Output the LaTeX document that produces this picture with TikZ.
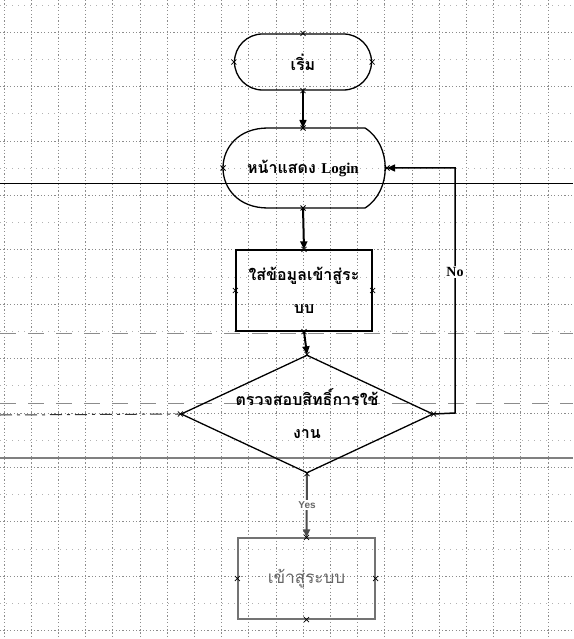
\documentclass[tikz,border=0pt]{standalone}
\usepackage{fontspec}
\setmainfont{Liberation Serif}
\newfontfamily\thai[Script=Thai]{Loma}
\newfontfamily\sansf{Liberation Sans}
\usetikzlibrary{shapes.geometric,arrows.meta}
\tikzset{
  gridline/.style={black!45,line width=0.5pt,dash pattern=on 1.2pt off 2.2pt},
  gridfaint/.style={black!30,line width=0.5pt,dash pattern=on 1pt off 5pt},
  rulebold/.style={black,line width=1.6pt},
  rulegrey/.style={black!50,line width=1.4pt},
  dashrule/.style={black!45,line width=1pt,dash pattern=on 16pt off 12pt},
  shapeline/.style={black,line width=1.3pt},
  termbox/.style={shapeline,draw,rectangle,rounded corners=28pt,minimum width=137pt,minimum height=56pt,inner sep=0pt},
  procbox/.style={shapeline,draw,rectangle,minimum width=136pt,minimum height=81pt,inner sep=0pt,align=center},
  decbox/.style={shapeline,draw,diamond,aspect=2.14,minimum width=252pt,minimum height=118pt,inner sep=0pt,align=center},
  greybox/.style={draw=black!55,line width=1.3pt,rectangle,minimum width=137pt,minimum height=81pt,inner sep=0pt},
  thaitext/.style={font=\thai\bfseries\fontsize{16}{33}\selectfont},
  flow/.style={black,line width=2pt,-{Triangle[length=8pt,width=7pt]}},
  cpmark/.style={black,line width=0.8pt},
  leftline/.style={black!80,line width=1pt,dash pattern=on 12pt off 5pt on 3pt off 5pt},
}
\newcommand\cpx[1]{\draw[cpmark] (#1) +(-2.5,-2.5) -- +(2.5,2.5) +(-2.5,2.5) -- +(2.5,-2.5);}
\begin{document}
\begin{tikzpicture}[x=1pt,y=-1pt]
\useasboundingbox (0,0) rectangle (573,639);
\fill[white] (0,0) rectangle (573,639);
% grid
\foreach \i in {0,...,20} {\draw[gridline] (3.8+27.2*\i,0) -- (3.8+27.2*\i,639);}
\foreach \j in {0,...,11} {\draw[gridline] (0,32+54.4*\j) -- (573,32+54.4*\j);}
\foreach \j in {0,...,11} {\draw[gridfaint] (0,4.8+54.4*\j) -- (573,4.8+54.4*\j);}
% rules
\draw[rulebold] (0,183.5) -- (573,183.5);
\draw[rulegrey] (0,458) -- (573,458);
\draw[dashrule] (0,333) -- (573,333);
\draw[dashrule] (0,403) -- (573,403);

% nodes
\node[termbox,thaitext] (start) at (303,62) {เริ่ม};
\node[inner sep=0pt,minimum width=164pt,minimum height=80pt] (login) at (305,168) {};
\draw[shapeline] (268,128) -- (365,128) .. controls (392,145) and (392,191) .. (365,208)
  -- (268,208) .. controls (208,208) and (208,128) .. (268,128);
\node[font=\thai\bfseries\fontsize{16}{18}\selectfont] (logintext) at (303,168) {หน้าแสดง {\rmfamily\bfseries\fontsize{15}{18}\selectfont Login}};
\node[procbox,thaitext] (input) at (304,290.5) {ใส่ข้อมูลเข้าสู่ระ\\บบ};
\node[decbox,thaitext] (check) at (307,414) {ตรวจสอบสิทธิ์การใช้\\งาน};
\node[greybox,text=black!60,font=\thai\fontsize{17}{19}\selectfont] (enter) at (306.5,578.5) {เข้าสู่ระบบ};

\coordinate (leftend) at (0,415);
\coordinate (noA) at (455,413);
\coordinate (noB) at (455,168);
\coordinate (loginE) at (387,168);
\coordinate (loginN) at (303,128);
\coordinate (loginS) at (303,208);
\coordinate (loginW) at (223,168);

% connectors
\draw[flow,line width=1.5pt] (start.south) -- (loginN);
\draw[flow] (loginS) -- (input.north);
\draw[flow] (input.south) -- (check.north);
\draw[flow,line width=1.5pt] (check.east) -- (noA) -- (noB) -- (loginE);
\node[fill=white,inner sep=1.5pt,font=\rmfamily\bfseries\fontsize{14}{16}\selectfont] (nolabel) at (455,272) {No};
\draw[flow,black!70] (check.south) -- (enter.north);
\node[fill=white,inner sep=1.5pt,text=black!60,font=\sansf\bfseries\fontsize{10}{12}\selectfont] (yeslabel) at (307,505) {Yes};
\draw[leftline] (leftend) -- (check.west);

% connection marks
\cpx{start.west}\cpx{start.east}\cpx{start.north}\cpx{start.south}
\cpx{loginW}\cpx{loginE}\cpx{loginN}\cpx{loginS}
\cpx{input.west}\cpx{input.east}\cpx{input.north}\cpx{input.south}
\cpx{check.west}\cpx{check.east}\cpx{check.north}\cpx{check.south}
\cpx{enter.west}\cpx{enter.east}\cpx{enter.north}\cpx{enter.south}
\end{tikzpicture}
\end{document}
